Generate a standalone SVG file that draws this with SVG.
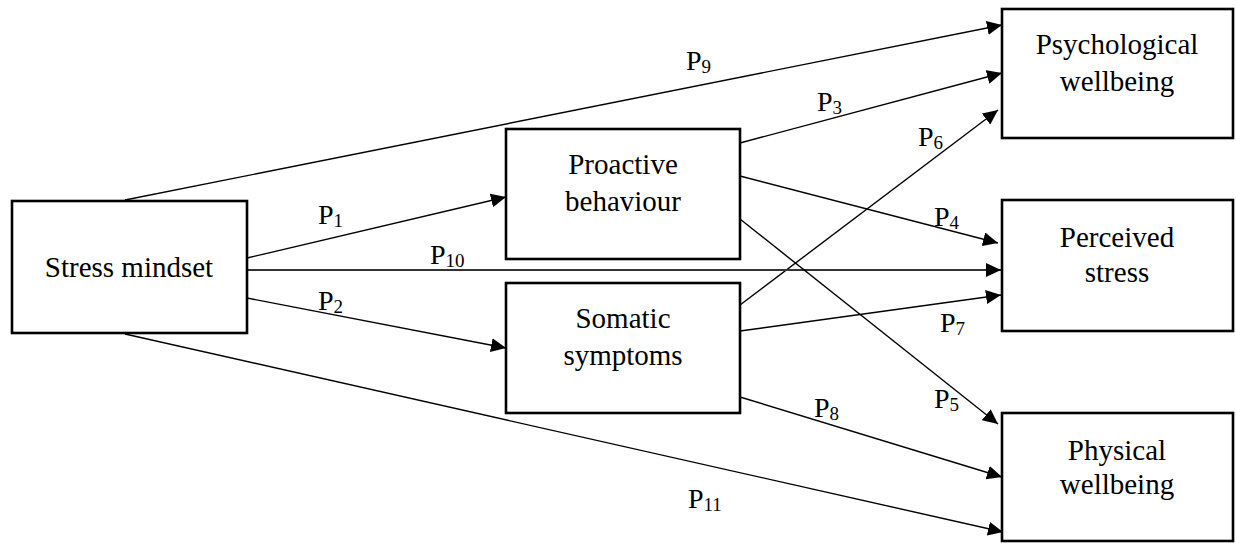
<svg xmlns="http://www.w3.org/2000/svg" width="1236" height="543" viewBox="0 0 1236 543">
<defs>
<marker id="ah" markerUnits="userSpaceOnUse" markerWidth="16" markerHeight="14" refX="15" refY="7" orient="auto">
<path d="M0,0 L15,7 L0,14 z" fill="#000"/>
</marker>
<style>
.box{fill:#fff;stroke:#000;stroke-width:2.6}
text{font-family:'Liberation Serif','Noto Serif','DejaVu Serif','Nimbus Roman','FreeSerif',Tinos,'Times New Roman',Times,serif;fill:#000}
.t{font-size:29px;text-anchor:middle}
.lbl{font-size:28px}
.sub{font-size:19px}
.c{stroke:#000;stroke-width:1.4;fill:none;marker-end:url(#ah)}
</style>
</defs>
<rect width="1236" height="543" fill="#fff"/>
<g id="connectors">
<line class="c" x1="125" y1="200" x2="1002" y2="25"/>
<line class="c" x1="740" y1="143" x2="1002" y2="73"/>
<line class="c" x1="740" y1="305" x2="998" y2="110"/>
<line class="c" x1="740" y1="176" x2="998" y2="243"/>
<line class="c" x1="247" y1="270" x2="1001" y2="270" style="stroke:#333;stroke-width:1.8"/>
<line class="c" x1="740" y1="331" x2="1001" y2="295"/>
<line class="c" x1="740" y1="219" x2="998" y2="424"/>
<line class="c" x1="740" y1="397" x2="1002" y2="477"/>
<line class="c" x1="125" y1="334" x2="1003" y2="532"/>
<line class="c" x1="247" y1="258" x2="506" y2="197"/>
<line class="c" x1="247" y1="298" x2="506" y2="348"/>
<g id="labels">
<text class="lbl" x="686" y="70">P<tspan class="sub" dy="3">9</tspan></text>
<text class="lbl" x="817" y="111">P<tspan class="sub" dy="3">3</tspan></text>
<text class="lbl" x="918" y="146">P<tspan class="sub" dy="3">6</tspan></text>
<text class="lbl" x="934" y="226">P<tspan class="sub" dy="3">4</tspan></text>
<text class="lbl" x="940" y="332">P<tspan class="sub" dy="3">7</tspan></text>
<text class="lbl" x="934" y="408">P<tspan class="sub" dy="3">5</tspan></text>
<text class="lbl" x="814" y="417">P<tspan class="sub" dy="3">8</tspan></text>
<text class="lbl" x="688" y="508">P<tspan class="sub" dy="3">11</tspan></text>
<text class="lbl" x="318" y="224">P<tspan class="sub" dy="3">1</tspan></text>
<text class="lbl" x="430" y="264">P<tspan class="sub" dy="3">10</tspan></text>
<text class="lbl" x="318" y="310">P<tspan class="sub" dy="3">2</tspan></text>
</g>
</g>
<g id="stress-mindset">
<rect class="box" x="12" y="201" width="235" height="132"/>
<text class="t" x="129" y="277">Stress mindset</text>
</g>
<g id="proactive-behaviour">
<rect class="box" x="506" y="129" width="234" height="130"/>
<text class="t" x="623" y="174">Proactive</text>
<text class="t" x="623" y="211">behaviour</text>
</g>
<g id="somatic-symptoms">
<rect class="box" x="506" y="283" width="234" height="130"/>
<text class="t" x="623" y="328">Somatic</text>
<text class="t" x="623" y="365">symptoms</text>
</g>
<g id="psychological-wellbeing">
<rect class="box" x="1002" y="9" width="231" height="129"/>
<text class="t" x="1117" y="54">Psychological</text>
<text class="t" x="1117" y="91">wellbeing</text>
</g>
<g id="perceived-stress">
<rect class="box" x="1002" y="200" width="231" height="131"/>
<text class="t" x="1117" y="247">Perceived</text>
<text class="t" x="1117" y="282">stress</text>
</g>
<g id="physical-wellbeing">
<rect class="box" x="1002" y="413" width="231" height="128"/>
<text class="t" x="1117" y="460">Physical</text>
<text class="t" x="1117" y="494">wellbeing</text>
</g>
</svg>
